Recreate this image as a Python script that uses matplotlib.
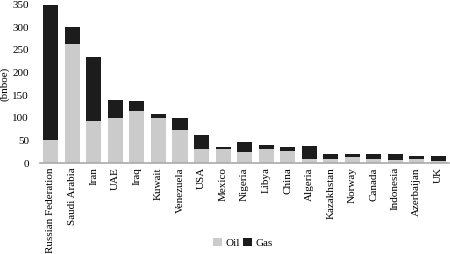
import matplotlib.pyplot as plt
import numpy as np

# 国別の石油・ガス埋蔵量 (bnboe)
countries = ["Russian Federation", "Saudi Arabia", "Iran", "UAE", "Iraq", "Kuwait",
             "Venezuela", "USA", "Mexico", "Nigeria", "Libya", "China", "Algeria",
             "Kazakhstan", "Norway", "Canada", "Indonesia", "Azerbaijan", "UK"]
oil = [50, 264, 92, 100, 114, 100, 74, 31, 31, 24, 31, 27, 10, 10, 13, 10, 6, 10, 5]
gas = [300, 36, 143, 40, 22, 8, 26, 30, 5, 22, 8, 8, 28, 11, 8, 11, 15, 5, 10]
yticks = [0, 50, 100, 150, 200, 250, 300, 350]


def main():
    plt.rcParams["font.family"] = ["Liberation Serif", "DejaVu Serif"]

    fig = plt.figure(figsize=(4.5, 2.54), dpi=100)
    ax = fig.add_axes([0.089, 0.358, 0.909, 0.624])

    x = np.arange(len(countries))
    ax.bar(x, oil, width=0.7, color="#cbcbcb", label="Oil")
    ax.bar(x, gas, width=0.7, bottom=oil, color="#1c1c1c", label="Gas")

    ax.set_xlim(-0.5, len(countries) - 0.5)
    ax.set_ylim(0, 350)
    ax.set_yticks(yticks)
    ax.tick_params(axis="y", length=0, labelsize=8, pad=8)
    ax.tick_params(axis="x", length=0, labelsize=8, pad=3)
    ax.set_xticks(x)
    ax.set_xticklabels(countries, rotation=90)
    ax.set_ylabel("(bnboe)", fontsize=8, labelpad=2)

    for s in ["top", "right", "left"]:
        ax.spines[s].set_visible(False)
    ax.spines["bottom"].set_color("#aaaaaa")
    ax.spines["bottom"].set_linewidth(1.2)

    fig.legend(loc="center", bbox_to_anchor=(0.54, 0.045), ncol=2, frameon=False,
               fontsize=8, handlelength=0.8, handleheight=0.8, handletextpad=0.3,
               columnspacing=0.3)

    fig.savefig("out.png", dpi=100)


if __name__ == "__main__":
    main()
